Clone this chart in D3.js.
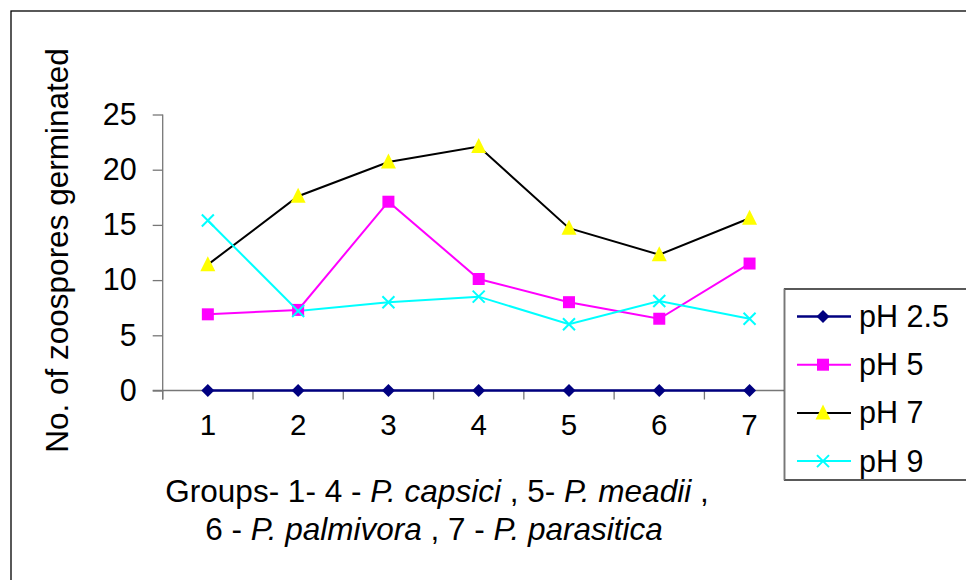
<!DOCTYPE html>
<html>
<head>
<meta charset="utf-8">
<script src="https://cdn.jsdelivr.net/npm/d3@7"></script>
<style>
  html, body { margin: 0; padding: 0; background: #fff; }
  svg { display: block; font-family: "Liberation Sans", Arial, sans-serif; }
</style>
</head>
<body>
<svg id="chart" width="966" height="580"></svg>
<script>
// ---- data ----
const groups = ["1", "2", "3", "4", "5", "6", "7"];
const yTicks = [0, 5, 10, 15, 20, 25];
const seriesNames = ["pH 2.5", "pH 5", "pH 7", "pH 9"];
const ph25 = [0, 0, 0, 0, 0, 0, 0];
const ph5  = [6.9, 7.3, 17.1, 10.1, 8.0, 6.5, 11.5];
const ph7  = [11.4, 17.6, 20.7, 22.1, 14.7, 12.3, 15.6];
const ph9  = [15.4, 7.2, 8.0, 8.5, 6.0, 8.1, 6.5];
const yTitle = "No. of zoospores germinated";
const xTitleLine1 = [["Groups- 1- 4 - ", false], ["P. capsici", true], [" , 5- ", false], ["P. meadii", true], [" ,", false]];
const xTitleLine2 = [["6 - ", false], ["P. palmivora", true], [" , 7 - ", false], ["P. parasitica", true]];

// ---- styles ----
const styles = [
  { line: "#000080", fill: "#000080", shape: "diamond" },
  { line: "#FF00FF", fill: "#FF00FF", shape: "square" },
  { line: "#000000", fill: "#FFFF00", shape: "triangle" },
  { line: "#00FFFF", fill: "none",    shape: "x" }
];
const seriesValues = [ph25, ph5, ph7, ph9];

const svg = d3.select("#chart");
const FONT = 30.5;

// outer frame
svg.append("rect").attr("x", 11).attr("y", 11).attr("width", 980).attr("height", 600)
  .attr("fill", "none").attr("stroke", "#000").attr("stroke-width", 1.3);

const pLeft = 162.7, pRight = 794.7, pTop = 114.5, pBottom = 390.5;
const x = d3.scaleBand().domain(groups).range([pLeft, pRight]).padding(0);
const y = d3.scaleLinear().domain([0, 25]).range([pBottom, pTop]);
const cx = g => x(g) + x.bandwidth() / 2;

// y axis
const yAxis = svg.append("g").attr("transform", `translate(${pLeft},0)`)
  .call(d3.axisLeft(y).tickValues(yTicks).tickSize(10).tickPadding(16).tickFormat(d3.format("d")));
yAxis.select(".domain").attr("stroke", "#777").attr("stroke-width", 1.3).attr("d", `M0,${pTop}V${pBottom + 9}`);
yAxis.selectAll(".tick line").attr("stroke", "#777").attr("stroke-width", 1.3);
yAxis.selectAll(".tick text").attr("font-size", FONT).attr("fill", "#000")
  .attr("font-family", "'Liberation Sans', Arial, sans-serif");

// x axis: line, boundary ticks, labels
const xAxis = svg.append("g").attr("transform", `translate(0,${pBottom})`)
  .call(d3.axisBottom(x).tickSize(0).tickPadding(24));
xAxis.select(".domain").attr("stroke", "#777").attr("stroke-width", 1.3).attr("d", `M${pLeft - 10},0H${pRight}`);
xAxis.selectAll(".tick text").attr("font-size", 29.5).attr("fill", "#000")
  .attr("font-family", "'Liberation Sans', Arial, sans-serif");
const bounds = groups.map(g => x(g)).concat([x(groups[groups.length - 1]) + x.bandwidth()]);
xAxis.selectAll(".bound").data(bounds).enter().append("line")
  .attr("x1", d => d).attr("x2", d => d).attr("y1", 0).attr("y2", 9)
  .attr("stroke", "#777").attr("stroke-width", 1.3);

// y title
svg.append("text")
  .attr("transform", `translate(68,${(pTop + pBottom) / 2 - 2}) rotate(-90)`)
  .attr("text-anchor", "middle").attr("font-size", 31.5).attr("fill", "#000")
  .text(yTitle);

// x title
function richLine(parts, xPos, yPos) {
  const t = svg.append("text").attr("x", xPos).attr("y", yPos).attr("text-anchor", "middle")
    .attr("font-size", 31.5).attr("fill", "#000").style("white-space", "pre");
  parts.forEach(([s, it]) => {
    t.append("tspan").attr("font-style", it ? "italic" : "normal").text(s);
  });
}
richLine(xTitleLine1, 437, 502);
richLine(xTitleLine2, 434, 540);

// markers
function drawMarker(sel, st) {
  if (st.shape === "diamond") {
    sel.append("path").attr("d", "M0,-6.5L6.5,0L0,6.5L-6.5,0Z").attr("fill", st.fill);
  } else if (st.shape === "square") {
    sel.append("rect").attr("x", -6).attr("y", -6).attr("width", 12).attr("height", 12).attr("fill", st.fill);
  } else if (st.shape === "triangle") {
    sel.append("path").attr("d", "M0,-8.5L7.5,6.5L-7.5,6.5Z").attr("fill", st.fill);
  } else {
    sel.append("path").attr("d", "M-6,-6L6,6M-6,6L6,-6").attr("stroke", st.line).attr("stroke-width", 2).attr("fill", "none");
  }
}

const line = d3.line().x(d => cx(d.g)).y(d => y(d.v));
seriesValues.forEach((vals, i) => {
  const st = styles[i];
  const pts = groups.map((g, j) => ({ g, v: vals[j] }));
  svg.append("path").datum(pts).attr("d", line).attr("fill", "none")
    .attr("stroke", st.line).attr("stroke-width", i === 0 ? 2.6 : 2);
});
seriesValues.forEach((vals, i) => {
  const st = styles[i];
  groups.forEach((g, j) => {
    const m = svg.append("g").attr("transform", `translate(${cx(g)},${y(vals[j])})`);
    drawMarker(m, st);
  });
});

// legend
const lg = svg.append("g");
lg.append("rect").attr("x", 784.5).attr("y", 289).attr("width", 200).attr("height", 191)
  .attr("fill", "#fff").attr("stroke", "#000").attr("stroke-width", 1.3);
lg.append("line").attr("x1", 784.5).attr("x2", 784.5).attr("y1", 289).attr("y2", 480)
  .attr("stroke", "#777").attr("stroke-width", 1.5);
seriesNames.forEach((name, i) => {
  const st = styles[i];
  const yy = 316.5 + i * 48.2;
  lg.append("line").attr("x1", 797).attr("x2", 851).attr("y1", yy).attr("y2", yy)
    .attr("stroke", st.line).attr("stroke-width", i === 0 ? 2.6 : 2);
  const m = lg.append("g").attr("transform", `translate(823,${yy})`);
  drawMarker(m, st);
  lg.append("text").attr("x", 859).attr("y", yy + 10.5).attr("font-size", 30.5).attr("fill", "#000").text(name);
});
</script>
</body>
</html>
